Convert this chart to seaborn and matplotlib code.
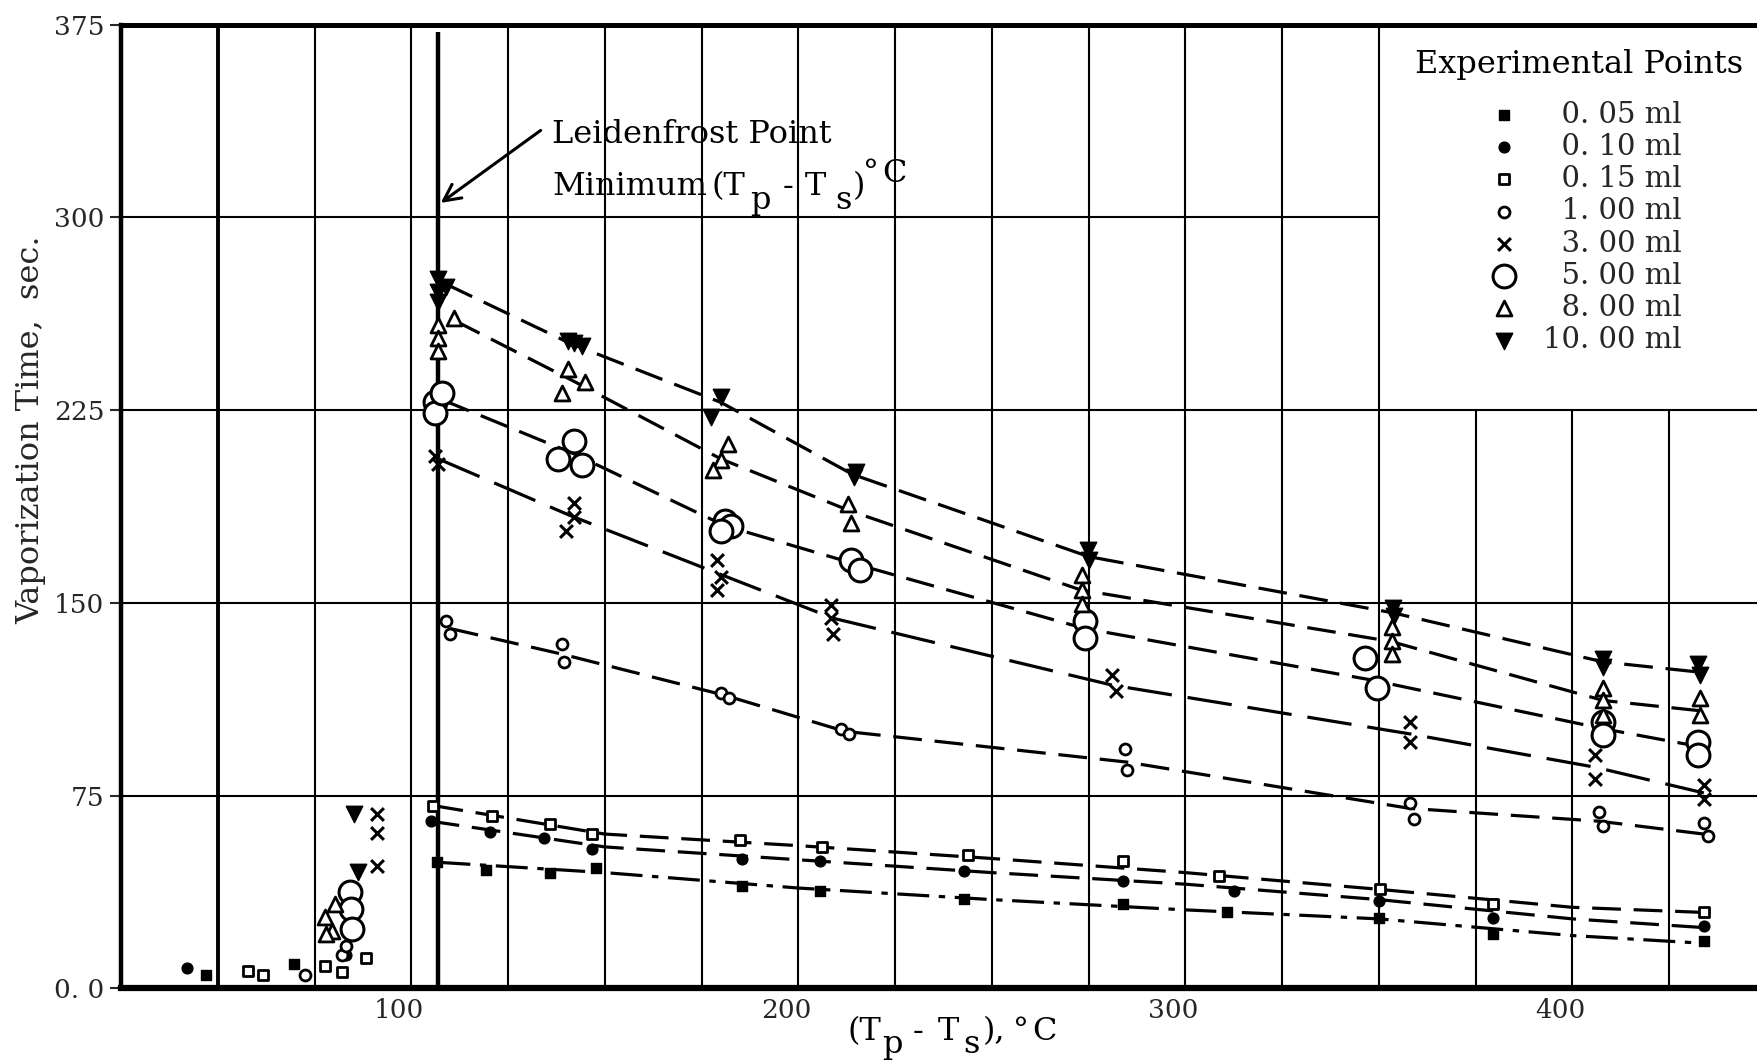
import matplotlib
matplotlib.use("Agg")
import matplotlib.pyplot as plt
from matplotlib.transforms import IdentityTransform, ScaledTranslation
import seaborn as sns
import numpy as np

# ---------------- data ----------------
v005_x = [47, 69.6, 106.5, 119.4, 135.8, 147.7, 185.5, 205.6, 242.9, 284, 310.8, 350, 379.6, 434]
v005_y = [5, 9.5, 49.3, 46, 44.7, 46.7, 39.9, 38, 34.7, 32.7, 29.5, 27.5, 21, 18.3]

v010_x = [41.9, 83, 105, 120.4, 134.3, 146.7, 185.5, 205.6, 242.9, 284, 312.7, 350, 379.6, 434]
v010_y = [7.9, 13, 65, 61, 58.5, 54, 50.4, 49.7, 45.8, 41.9, 38, 34, 27.5, 24.2]

v015_x = [57.7, 61.7, 77.6, 82.2, 88.2, 105.6, 120.9, 135.8, 146.7, 185, 206, 243.8, 284, 308.8, 350.3, 379.6, 434]
v015_y = [6.8, 5, 8.6, 6.3, 11.8, 71, 67, 63.8, 59.9, 57.5, 55, 51.7, 49.7, 43.8, 38.6, 32.7, 29.5]

v100_x = [72.6, 82, 83, 109, 110, 139, 139.5, 180, 182, 211, 213, 284.5, 285, 358, 359, 407, 408, 434, 435]
v100_y = [5.3, 13, 16.4, 143, 138, 134, 127, 115, 113, 101, 99, 93, 85, 72, 66, 68.5, 63, 64.5, 59.3]

v300_x = [91.2, 91.2, 91.2, 106, 107, 142, 142, 140, 179, 180, 179, 208.4, 208.4, 209, 281, 282, 358, 358, 405.8, 406, 434, 434]
v300_y = [67.8, 60.5, 47.4, 207, 204, 189, 183.5, 178, 166.6, 160, 155, 149, 144, 138, 122, 115.6, 103.8, 96, 90.7, 81.5, 79, 73.7]

v500_x = [84.2, 84.5, 84.7, 106, 106, 108, 142, 138, 144, 181, 182.6, 180, 213.6, 216, 274, 274, 346.5, 349.5, 408, 408, 432.6, 432.6]
v500_y = [37.5, 31, 23, 228, 224, 231.5, 213, 206, 203.5, 182, 180, 178, 166.6, 162.9, 143, 136.5, 128.7, 117, 103.8, 98.6, 96, 90.7]

v800_x = [77.8, 80.3, 79.5, 78, 107, 107, 107, 111, 140.5, 145, 139, 181.7, 180, 178, 212.8, 213.6, 273.4, 273.4, 273.4, 353.5, 353.5, 353.5, 408, 408, 408, 433, 433]
v800_y = [27.6, 32.9, 22.4, 21, 258, 253, 248, 261, 241, 236, 231.5, 212, 205.6, 201.7, 188.6, 181, 160.7, 155, 149.6, 140.4, 135, 130, 117, 112, 106.4, 113, 106.4]

v1000_x = [85.2, 86.2, 107, 107, 107, 109, 140.4, 144, 142, 180, 177.4, 214.5, 215, 274.9, 275, 353.7, 354, 408, 408, 432.6, 433]
v1000_y = [67.8, 45.4, 276, 271, 267, 273, 252, 249.8, 251, 230, 222.5, 199, 201, 170.5, 166.6, 148, 145, 128, 125, 126, 122]

# fitted (dashed) curves
c1000_x = [109, 141, 180, 214, 275, 354, 408, 433]
c1000_y = [274, 251, 228, 200, 168, 146, 127, 123]
c800_x = [111, 141, 180, 213, 273, 353, 408, 433]
c800_y = [260, 237, 206, 186, 155, 135, 112, 108]
c500_x = [108, 142, 181, 215, 274, 348, 408, 433]
c500_y = [229, 208, 180, 165, 140, 120, 101, 94]
c300_x = [107, 141, 180, 209, 281, 358, 406, 434]
c300_y = [206, 184, 161, 144, 118, 99, 86, 76]
c100_x = [110, 139, 181, 212, 285, 358, 407, 434]
c100_y = [140, 130, 114, 100, 88, 70, 65, 60]
c015_x = [106, 150, 200, 250, 300, 350, 400, 434]
c015_y = [71, 60, 55.5, 50.5, 45, 38.5, 31.5, 29.5]
c010_x = [105, 150, 200, 250, 300, 350, 400, 434]
c010_y = [65, 55, 50, 45, 40.5, 34.5, 27, 23.6]
c005_x = [107, 150, 200, 250, 300, 350, 400, 434]
c005_y = [49, 45, 39, 34.5, 30.5, 27, 20.5, 17.5]

legend_labels = ["0. 05 ml", "0. 10 ml", "0. 15 ml", "1. 00 ml",
                 "3. 00 ml", "5. 00 ml", "8. 00 ml", "10. 00 ml"]

x_ticks = [100, 200, 300, 400]
y_ticks = [0, 75, 150, 225, 300, 375]
y_tick_labels = ["0. 0", "75", "150", "225", "300", "375"]

LEIDENFROST_X = 107

# ---------------- style ----------------
sns.set_style("white")
plt.rcParams["font.family"] = ["DejaVu Serif"]
plt.rcParams["mathtext.fontset"] = "dejavuserif"

W, H = 1758, 1060
fig = plt.figure(figsize=(W / 100, H / 100), dpi=100)
ax = fig.add_axes([0.0689, 0.0677, 0.9311, 0.909])
XMIN, XMAX, YMIN, YMAX = 25, 448, 0, 375
ax.set_xlim(XMIN, XMAX)
ax.set_ylim(YMIN, YMAX)

# grid (legend area left empty)
for gx in np.arange(50, 450, 25):
    top = YMAX if gx <= 350 else 225
    ax.vlines(gx, YMIN, top, color="black", lw=2.8 if gx == 50 else 1.5, zorder=1)
for gy in [75, 150, 225, 300]:
    right = XMAX if gy < 300 else 350
    ax.hlines(gy, XMIN, right, color="black", lw=1.5, zorder=1)

# Leidenfrost line
ax.vlines(LEIDENFROST_X, 0, 372, color="black", lw=3.2, zorder=2)

# curves
dash = (0, (9, 4))
curves = [(c005_x, c005_y, (0, (10, 3, 2, 3))), (c010_x, c010_y, dash), (c015_x, c015_y, dash),
          (c100_x, c100_y, dash), (c300_x, c300_y, (0, (14, 5))), (c500_x, c500_y, dash),
          (c800_x, c800_y, dash), (c1000_x, c1000_y, dash)]
for cx, cy, ls in curves:
    sns.lineplot(x=cx, y=cy, ax=ax, color="black", lw=2.3, linestyle=ls,
                 sort=False, estimator=None, legend=False, zorder=3)

# points
series = [
    (v005_x, v005_y, "s", 48, "black", 1.0),
    (v010_x, v010_y, "o", 60, "black", 1.0),
    (v015_x, v015_y, "s", 48, "white", 2.0),
    (v100_x, v100_y, "o", 62, "white", 2.0),
    (v300_x, v300_y, "x", 85, None, 2.2),
    (v500_x, v500_y, "o", 270, "white", 2.2),
    (v800_x, v800_y, "^", 115, "white", 2.0),
    (v1000_x, v1000_y, "v", 140, "black", 1.0),
]
for (sx, sy, mk, sz, fc, lw), lab in zip(series, legend_labels):
    if fc is None:
        sns.scatterplot(x=sx, y=sy, ax=ax, marker=mk, s=sz, color="black",
                        linewidth=lw, label=lab, zorder=4)
    else:
        sns.scatterplot(x=sx, y=sy, ax=ax, marker=mk, s=sz, facecolor=fc,
                        edgecolor="black", linewidth=lw, label=lab, zorder=4)

# spines
ax.spines["left"].set_linewidth(3.2)
ax.spines["top"].set_linewidth(3.6)
ax.spines["bottom"].set_linewidth(4.5)
for side in ["left", "top", "bottom"]:
    ax.spines[side].set_color("black")
ax.spines["right"].set_visible(False)

ax.set_xticks(x_ticks)
ax.set_xticklabels([str(t) for t in x_ticks])
ax.set_yticks(y_ticks)
ax.set_yticklabels(y_tick_labels)
ax.tick_params(axis="y", direction="out", length=8, width=1.5, pad=4, labelsize=19, left=True)
ax.tick_params(axis="x", length=0, pad=7, labelsize=19)
shift = ScaledTranslation(-12 / 100, 0, fig.dpi_scale_trans)
for lbl in ax.get_xticklabels():
    lbl.set_transform(lbl.get_transform() + shift)

ax.set_xlabel("")
ax.set_ylabel("Vaporization Time,  sec.", fontsize=23)
ax.yaxis.set_label_coords(-0.046, 0.580)


def px_text(s, left, baseline, size):
    """Place a text piece at reference pixel position (top-left origin)."""
    fig.text(left, H - baseline, s, transform=IdentityTransform(),
             fontsize=size, ha="left", va="baseline", color="black")


# x-axis label: (T_p - T_s), °C
for s, lft, base in [("(T", 847, 1040), ("p", 882, 1053), ("-", 913, 1040),
                     ("T", 938, 1040), ("s", 963, 1053), ("),", 983, 1040),
                     ("°", 1013, 1040), ("C", 1032, 1040)]:
    px_text(s, lft, base, 23)

# annotation
ax.annotate("", xy=(LEIDENFROST_X, 305), xytext=(134, 334.5),
            arrowprops=dict(arrowstyle="->", lw=2.2, color="black", mutation_scale=30))
px_text("Leidenfrost Point", 552, 143, 23)
for s, lft, base in [("Minimum", 552, 195), ("(T", 712, 195), ("p", 750, 209),
                     ("-", 783, 195), ("T", 805, 195), ("s", 835, 209),
                     (")", 853, 195), ("°", 863, 182), ("C", 882, 182)]:
    px_text(s, lft, base, 23)

# legend
px_text("Experimental Points", 1415, 73, 23)
handles, labels = ax.get_legend_handles_labels()
pad_labels = [("\u2007" + l) if len(l) < 9 else l for l in labels]
leg = ax.legend(handles, pad_labels, loc="upper left",
                bbox_to_anchor=(1475 / W, 1 - 86 / H), bbox_transform=fig.transFigure,
                frameon=False, fontsize=21, borderpad=0,
                handlelength=1.0, handletextpad=0.82, labelspacing=0.145,
                scatterpoints=1)

fig.savefig("out.png", dpi=100, facecolor="white")
